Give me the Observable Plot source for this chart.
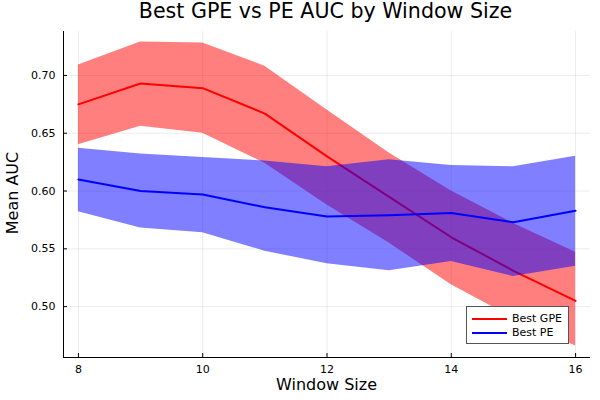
<!DOCTYPE html>
<html><head><meta charset="utf-8">
<script src="https://cdn.jsdelivr.net/npm/d3@7"></script>
<script src="https://cdn.jsdelivr.net/npm/@observablehq/plot@0.6"></script>
<style>
body{margin:0;background:#fff;font-family:"DejaVu Sans",sans-serif}
#wrap{position:relative;width:600px;height:400px;overflow:hidden}
#wrap svg{position:absolute;left:0;top:0}
.title{position:absolute;left:63px;width:525px;top:-1px;text-align:center;font-size:20.6px;color:#000;white-space:nowrap}
.xlabel{position:absolute;left:63px;width:527px;top:375px;text-align:center;font-size:16px;color:#000;white-space:nowrap}
.ylabel{position:absolute;left:12px;top:193px;font-size:16px;color:#000;transform:translate(-50%,-50%) rotate(-90deg);white-space:nowrap}
.legend{position:absolute;left:466px;top:306px;width:103px;height:38px;border:1px solid #555;background:#fff;box-sizing:border-box;font-size:11px}
.legend .row{position:absolute;left:5px;display:flex;align-items:center;height:13px}
.legend .sw{width:35px;height:2px;margin-right:5px}
</style></head><body>
<div id="wrap">
  <div class="title">Best GPE vs PE AUC by Window Size</div>
  <div class="xlabel">Window Size</div>
  <div class="ylabel">Mean AUC</div>
</div>
<script>
const windowSizes = [8, 9, 10, 11, 12, 13, 14, 15, 16];
const gpeMean  = [0.675, 0.693, 0.689, 0.667, 0.630, 0.595, 0.560, 0.531, 0.505];
const gpeUpper = [0.709, 0.729, 0.728, 0.708, 0.670, 0.633, 0.600, 0.572, 0.547];
const gpeLower = [0.640, 0.656, 0.650, 0.624, 0.588, 0.555, 0.519, 0.490, 0.466];
const peMean   = [0.610, 0.600, 0.597, 0.586, 0.578, 0.579, 0.581, 0.573, 0.583];
const peUpper  = [0.637, 0.632, 0.629, 0.626, 0.621, 0.627, 0.622, 0.621, 0.630];
const peLower  = [0.582, 0.568, 0.564, 0.548, 0.537, 0.531, 0.539, 0.526, 0.535];
const xTicks = [8, 10, 12, 14, 16];
const yTicks = [0.50, 0.55, 0.60, 0.65, 0.70];
const seriesNames = ["Best GPE", "Best PE"];
const seriesColors = ["#ff0000", "#0000ff"];

const gpe = windowSizes.map((w, i) => ({w, m: gpeMean[i], lo: gpeLower[i], hi: gpeUpper[i]}));
const pe = windowSizes.map((w, i) => ({w, m: peMean[i], lo: peLower[i], hi: peUpper[i]}));

const W = 600, H = 400, mL = 63, mR = 10, mT = 31, mB = 43;
const plotH = H - mT - mB, plotW = W - mL - mR;
const xDomain = [7.76, 16.24];
const yDomain = [0.456, 0.738];

const chart = Plot.plot({
  width: W, height: H,
  marginLeft: mL, marginRight: mR, marginTop: mT, marginBottom: mB,
  style: {fontFamily: "DejaVu Sans, sans-serif", fontSize: "11px", color: "#000", background: "transparent"},
  x: {domain: xDomain},
  y: {domain: yDomain},
  marks: [
    Plot.gridX(xTicks, {stroke: "#000", strokeOpacity: 0.08}),
    Plot.gridY(yTicks, {stroke: "#000", strokeOpacity: 0.08}),
    Plot.areaY(gpe, {x: "w", y1: "lo", y2: "hi", fill: seriesColors[0], fillOpacity: 0.5}),
    Plot.line(gpe, {x: "w", y: "m", stroke: seriesColors[0], strokeWidth: 2}),
    Plot.areaY(pe, {x: "w", y1: "lo", y2: "hi", fill: seriesColors[1], fillOpacity: 0.5}),
    Plot.line(pe, {x: "w", y: "m", stroke: seriesColors[1], strokeWidth: 2}),
    Plot.tickX(xTicks, {x: d => d, stroke: "#000", insetTop: plotH - 4}),
    Plot.tickY(yTicks, {y: d => d, stroke: "#000", insetRight: plotW - 4}),
    Plot.axisX(xTicks, {tickSize: 0, tickPadding: 8, label: null, fontSize: 11}),
    Plot.axisY(yTicks, {tickSize: 0, tickPadding: 8, label: null, tickFormat: d3.format(".2f"), fontSize: 11}),
    Plot.ruleX([xDomain[0]], {stroke: "#000", strokeWidth: 1}),
    Plot.ruleY([yDomain[0]], {stroke: "#000", strokeWidth: 1})
  ]
});
const wrap = document.getElementById("wrap");
wrap.insertBefore(chart, wrap.firstChild);

const leg = document.createElement("div");
leg.className = "legend";
seriesNames.forEach((name, i) => {
  const row = document.createElement("div");
  row.className = "row";
  row.style.top = (5 + i * 14) + "px";
  const sw = document.createElement("div");
  sw.className = "sw";
  sw.style.background = seriesColors[i];
  const t = document.createElement("span");
  t.textContent = name;
  row.appendChild(sw); row.appendChild(t);
  leg.appendChild(row);
});
wrap.appendChild(leg);
</script>
</body></html>
